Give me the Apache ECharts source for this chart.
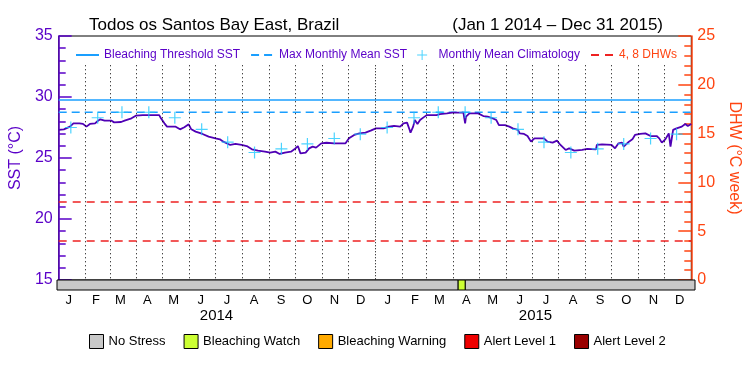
<!DOCTYPE html>
<html>
<head>
<meta charset="utf-8">
<script src="https://cdn.jsdelivr.net/npm/echarts@6/dist/echarts.min.js"></script>
<style>html,body{margin:0;padding:0;background:#fff}#main{width:750px;height:375px}</style>
</head>
<body>
<div id="main"></div>
<script>
// daily SST, day index from Jan 1 2014
var sstDay = [0, 6, 13, 17, 24, 28, 32, 36, 42, 45, 48, 53, 61, 64, 72, 76, 84, 89, 97, 116,
    118, 122, 125, 135, 140, 145, 150, 153, 158, 166, 173, 181, 186, 190, 198, 204, 211, 217, 223, 230,
    238, 244, 250, 255, 261, 268, 272, 276, 279, 285, 289, 293, 297, 303, 309, 318, 331, 335, 341, 347,
    354, 360, 366, 375, 381, 387, 394, 398, 402, 405, 406, 409, 411, 414, 417, 421, 425, 436, 440, 448,
    454, 467, 469, 470, 474, 484, 486, 490, 495, 501, 505, 508, 515, 520, 524, 530, 532, 537, 541, 545,
    549, 560, 564, 570, 575, 579, 585, 589, 595, 604, 610, 620, 621, 627, 638, 642, 646, 650, 652, 654,
    658, 662, 665, 671, 677, 683, 690, 693, 696, 700, 704, 706, 709, 713, 719, 723, 726, 730];
var sstValue = [27.3, 27.35, 27.57, 27.84, 27.84, 27.8, 27.57, 27.79, 27.84, 28.03, 28.17, 28.06, 28.06, 27.92, 27.95, 28.06, 28.25, 28.47, 28.52, 28.52,
    28.25, 27.84, 27.57, 27.57, 27.35, 27.52, 27.76, 27.35, 27.16, 26.97, 26.75, 26.61, 26.53, 26.34, 26.07, 26.15, 26.07, 25.98, 25.71, 25.6,
    25.52, 25.44, 25.52, 25.33, 25.44, 25.52, 25.71, 25.98, 25.38, 25.44, 25.79, 25.93, 25.85, 26.2, 26.25, 26.2, 26.2, 26.61, 26.89, 27.02,
    27.08, 27.24, 27.43, 27.43, 27.57, 27.63, 27.57, 27.84, 27.9, 27.3, 27.08, 27.57, 28.11, 27.79, 28.11, 28.33, 28.52, 28.52, 28.6, 28.66,
    28.72, 28.72, 27.84, 28.39, 28.66, 28.66, 28.72, 28.44, 28.39, 28.25, 28.11, 27.7, 27.7, 27.57, 27.43, 27.3, 27.02, 26.97, 26.8, 26.34,
    26.61, 26.61, 26.34, 26.26, 26.42, 26.07, 25.66, 25.79, 25.6, 25.66, 25.74, 25.71, 26.07, 26.12, 26.07, 25.79, 26.2, 26.26, 25.93, 25.79,
    26.34, 26.53, 26.89, 26.97, 27.02, 26.8, 26.8, 26.61, 26.26, 26.53, 27.02, 25.93, 27.3, 27.43, 27.57, 27.79, 27.63, 27.79];
var climMonthly = [27.5, 28.3, 28.75, 28.75, 28.3, 27.35, 26.3, 25.45, 25.75, 26.15, 26.6, 26.95];
var thresholdSST = 29.75;
var mmmSST = 28.75;
var dhwLevels = [4, 8];
var stressNames = ['No Stress', 'Bleaching Watch', 'Bleaching Warning', 'Alert Level 1', 'Alert Level 2'];
var stressColors = ['#c8c8c8', '#ccff33', '#ffaa00', '#ee0000', '#990000'];
var stressStart = [0, 459, 467];
var stressEnd = [459, 467, 730];
var stressLevel = [0, 1, 0];
var monthLetters = ['J', 'F', 'M', 'A', 'M', 'J', 'J', 'A', 'S', 'O', 'N', 'D'];
var years = ['2014', '2015'];

var purple = '#5a00c8';
var orange = '#ff4411';
var DAY = 86400000;
var t0 = Date.UTC(2014, 0, 1);
function dayOf(y, m, d) { return Math.round((Date.UTC(y, m, d) - t0) / DAY); }
var totalDays = dayOf(2016, 0, 1);

var sstData = sstDay.map(function (d, i) { return [d, sstValue[i]]; });
var climData = [];
var monthLines = [];
years.forEach(function (ys) {
    var y = +ys;
    for (var m = 0; m < 12; m++) {
        climData.push([dayOf(y, m, 15), climMonthly[m]]);
        var s = dayOf(y, m, 1);
        if (s > 0) {
            monthLines.push([
                { coord: [s, 32.6], lineStyle: { type: m === 0 ? [1, 2] : [1, 3] } },
                { coord: [s, 15] }
            ]);
        }
    }
});
var dayCats = [];
for (var i = 0; i < totalDays; i++) dayCats.push(String(i));
function dateAt(i) { return new Date(t0 + i * DAY); }

var stressSeries = stressNames.map(function (name, k) {
    var data = [];
    stressLevel.forEach(function (lv, j) { if (lv === k) data.push([stressStart[j], stressEnd[j]]); });
    return {
        name: name, type: 'custom', xAxisIndex: 1, yAxisIndex: 2,
        itemStyle: { color: stressColors[k], borderColor: '#000', borderWidth: 1 },
        encode: { x: [0, 1] },
        data: data,
        renderItem: function (params, api) {
            var a = api.coord([api.value(0), 1]);
            var b = api.coord([api.value(1), 0]);
            return {
                type: 'rect',
                shape: { x: a[0], y: a[1], width: b[0] - a[0], height: b[1] - a[1] },
                style: { fill: stressColors[k], stroke: '#000', lineWidth: 1 }
            };
        }
    };
});

var myChart = echarts.init(document.getElementById('main'));
var option = {
    animation: false,
    textStyle: { fontFamily: 'Liberation Sans' },
    title: [
        { text: 'Todos os Santos Bay East, Brazil', left: 84, top: 12,
          textStyle: { fontSize: 17, fontWeight: 'normal', color: '#000' } },
        { text: '(Jan 1 2014 \u2013 Dec 31 2015)', right: 82, top: 12,
          textStyle: { fontSize: 17, fontWeight: 'normal', color: '#000' } }
    ],
    legend: [
        {
            left: 70, top: 44, itemWidth: 23, itemHeight: 10, itemGap: 10,
            textStyle: { fontSize: 12, color: purple },
            data: [
                { name: 'Bleaching Threshold SST', itemStyle: { opacity: 0 } },
                { name: 'Max Monthly Mean SST', itemStyle: { opacity: 0 } },
                { name: 'Monthly Mean Climatology' },
                { name: '4, 8 DHWs', itemStyle: { opacity: 0 }, textStyle: { color: orange } }
            ]
        },
        {
            left: 84, top: 329, itemWidth: 14, itemHeight: 14, itemGap: 18, icon: 'rect',
            itemStyle: { borderColor: '#000', borderWidth: 1 },
            textStyle: { fontSize: 13, color: '#000' },
            data: stressNames
        }
    ],
    grid: [
        { left: 57, right: 55, top: 36, height: 244, show: true, borderColor: '#000', borderWidth: 1 },
        { left: 57, right: 55, top: 280, height: 10 },
        { left: 57, right: 55, top: 280, height: 10 }
    ],
    xAxis: [
        { type: 'value', gridIndex: 0, min: 0, max: totalDays, show: false },
        { type: 'value', gridIndex: 1, min: 0, max: totalDays, show: false, position: 'top' },
        {
            type: 'category', gridIndex: 1, position: 'bottom', data: dayCats,
            axisLine: { show: false }, axisTick: { show: false },
            axisLabel: {
                margin: 4, fontSize: 13, color: '#000',
                interval: function (idx) { return dateAt(idx).getUTCDate() === 14; },
                formatter: function (v) { return monthLetters[dateAt(+v).getUTCMonth()]; }
            }
        },
        {
            type: 'category', gridIndex: 2, position: 'bottom', data: years,
            axisLine: { show: false }, axisTick: { show: false },
            axisLabel: { margin: 18, fontSize: 15, color: '#000' }
        }
    ],
    yAxis: [
        {
            type: 'value', gridIndex: 0, min: 15, max: 35, interval: 5, position: 'left',
            name: 'SST (\u00b0C)', nameLocation: 'middle', nameGap: 25,
            nameTextStyle: { fontSize: 16, color: purple },
            axisLine: { show: true, lineStyle: { color: purple, width: 1.5 } },
            axisTick: { show: true, inside: true, length: 13, lineStyle: { color: purple, width: 1.5 } },
            minorTick: { show: true, splitNumber: 5, length: 7, lineStyle: { color: purple, width: 1.5 } },
            axisLabel: { fontSize: 16, color: purple, margin: 6 },
            splitLine: { show: false }
        },
        {
            type: 'value', gridIndex: 0, min: 0, max: 25, interval: 5, position: 'right',
            name: 'DHW (\u00b0C week)', nameLocation: 'middle', nameGap: 18, nameRotate: -90,
            nameTextStyle: { fontSize: 16, color: orange },
            axisLine: { show: true, lineStyle: { color: orange, width: 1.5 } },
            axisTick: { show: true, inside: true, length: 13, lineStyle: { color: orange, width: 1.5 } },
            minorTick: { show: true, splitNumber: 5, length: 7, lineStyle: { color: orange, width: 1.5 } },
            axisLabel: { fontSize: 16, color: orange, margin: 6 },
            splitLine: { show: false }
        },
        { type: 'value', gridIndex: 1, min: 0, max: 1, show: false },
        { type: 'value', gridIndex: 2, min: 0, max: 1, show: false }
    ],
    series: [
        {
            name: 'SST', type: 'line', xAxisIndex: 0, yAxisIndex: 0, data: sstData,
            symbol: 'none', z: 4,
            lineStyle: { color: '#4f00b5', width: 1.8 },
            markLine: {
                silent: true, symbol: ['none', 'none'], label: { show: false },
                lineStyle: { color: '#000', width: 1, type: [1, 3] },
                data: monthLines
            }
        },
        {
            name: 'Bleaching Threshold SST', type: 'line', xAxisIndex: 0, yAxisIndex: 0,
            data: [[0, thresholdSST], [totalDays, thresholdSST]], symbol: 'none',
            color: '#1a9fff', lineStyle: { color: '#1a9fff', width: 1.5 }
        },
        {
            name: 'Max Monthly Mean SST', type: 'line', xAxisIndex: 0, yAxisIndex: 0,
            data: [[0, mmmSST], [totalDays, mmmSST]], symbol: 'none',
            color: '#1a9fff', lineStyle: { color: '#1a9fff', width: 1.5, type: [8, 5] }
        },
        {
            name: 'Monthly Mean Climatology', type: 'scatter', xAxisIndex: 0, yAxisIndex: 0,
            data: climData, z: 5,
            symbol: 'path://M0,5.4h12v1.2h-12z M5.4,0h1.2v12h-1.2z', symbolSize: 12,
            itemStyle: { color: '#1ec8ff' }
        },
        {
            name: '4, 8 DHWs', type: 'line', xAxisIndex: 0, yAxisIndex: 1, data: [],
            symbol: 'none', color: '#ee2222',
            lineStyle: { color: '#ee2222', width: 1.5, type: [8, 6] },
            markLine: {
                silent: true, symbol: ['none', 'none'], label: { show: false },
                lineStyle: { color: '#ee2222', width: 1.5, type: [8, 6] },
                data: dhwLevels.map(function (v) { return { yAxis: v }; })
            }
        }
    ].concat(stressSeries)
};
myChart.setOption(option);
</script>
</body>
</html>
